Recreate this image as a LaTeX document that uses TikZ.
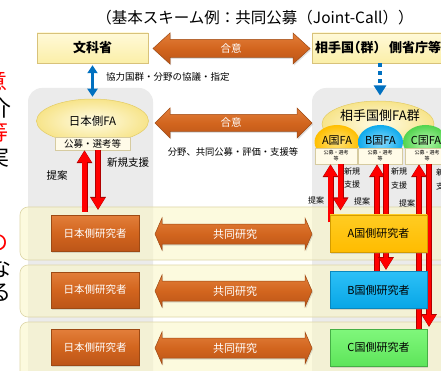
\documentclass[tikz,border=0pt]{standalone}
\usepackage{fontspec}
\setmainfont{Noto Sans CJK JP}
\newfontfamily\haltfont[RawFeature=+halt]{Noto Sans CJK JP}
\usetikzlibrary{arrows.meta,shadows,shapes.geometric,calc}
\definecolor{boxyel}{HTML}{FBEFA8}
\definecolor{boxyelL}{HTML}{FFF9D8}
\definecolor{boxyelD}{HTML}{D8C27A}
\definecolor{org}{HTML}{D2651E}
\definecolor{orgL}{HTML}{E27E3A}
\definecolor{orgD}{HTML}{BC5518}
\definecolor{orgB}{HTML}{9E4A14}
\definecolor{panel}{HTML}{EBEBEB}
\definecolor{band}{HTML}{FAF6C4}
\definecolor{bandD}{HTML}{DDD6A8}
\definecolor{ellin}{HTML}{FFFCE6}
\definecolor{ellout}{HTML}{F7E48A}
\definecolor{ellD}{HTML}{E3CC66}
\definecolor{fab}{HTML}{FFFBE8}
\definecolor{fabD}{HTML}{D6CBA0}
\definecolor{Aout}{HTML}{FFBF00}
\definecolor{Ain}{HTML}{FFE27A}
\definecolor{Bout}{HTML}{0EAAEC}
\definecolor{Bin}{HTML}{8ADCFF}
\definecolor{Cout}{HTML}{52D44E}
\definecolor{Cin}{HTML}{B4F6AC}
\definecolor{AboxT}{HTML}{FFCC22}
\definecolor{AboxB}{HTML}{FFBC00}
\definecolor{AboxD}{HTML}{D49C00}
\definecolor{BboxT}{HTML}{2CC0F7}
\definecolor{BboxB}{HTML}{08A6E6}
\definecolor{BboxD}{HTML}{0A88BE}
\definecolor{CboxT}{HTML}{80F77C}
\definecolor{CboxB}{HTML}{5EE55A}
\definecolor{CboxD}{HTML}{45B045}
\definecolor{mblue}{HTML}{0070C0}
\definecolor{rdark}{HTML}{B00000}
\newcommand\dblarr[6]{%
 \path[orgarrow] (#1,#3) -- ({#1+#6},{#3-#5}) -- ({#1+#6},{#3-#4}) -- ({#2-#6},{#3-#4}) -- ({#2-#6},{#3-#5}) -- (#2,#3) -- ({#2-#6},{#3+#5}) -- ({#2-#6},{#3+#4}) -- ({#1+#6},{#3+#4}) -- ({#1+#6},{#3+#5}) -- cycle;}
\newcommand\redarr[2]{%
 \draw[redunder] #1 -- #2; \draw[redover] #1 -- #2;}
\tikzset{
 fs/.style={font=\fontsize{#1}{#1}\selectfont},
 shad/.style={drop shadow={opacity=0.25,shadow xshift=1pt,shadow yshift=-1.5pt}},
 topbox/.style={draw=boxyelD, line width=0.5pt, top color=boxyelL, bottom color=boxyel, inner sep=0pt, shad},
 orgarrow/.style={draw=orgB, line width=0.5pt, top color=orgL, bottom color=orgD, middle color=org, shad},
 wlbl/.style={text=white, inner sep=0pt},
 lbl/.style={inner sep=0pt},
 panelbox/.style={fill=panel, rounded corners=14pt},
 bandbox/.style={fill=band, fill opacity=0.55, draw=bandD, line width=0.6pt, rounded corners=8pt},
 fabox/.style={draw=fabD, line width=0.4pt, fill=fab, inner sep=0pt},
 lres/.style={draw=orgB, line width=0.5pt, top color=orgL, bottom color=orgD, middle color=org, text=white, inner sep=0pt, minimum width=88pt, minimum height=36pt, fs=10.5, shad},
 rres/.style={line width=0.5pt, inner sep=0pt, minimum width=97pt, minimum height=37pt, fs=11, shad},
 redunder/.style={draw=rdark, line width=6pt, -{Triangle[width=15pt,length=13pt]}},
 redover/.style={draw=red, line width=4.4pt, shorten >=0.8pt, -{Triangle[width=12.6pt,length=11pt]}},
}
\begin{document}
\begin{tikzpicture}[x=1pt,y=-1pt]
\useasboundingbox[fill=white] (0,0) rectangle (441,371);
% cut-off margin text
\begin{scope}[fs=22]
\node[anchor=east, inner sep=0pt, text=red] (m1) at (8,81) {意};
\node[anchor=east, inner sep=0pt] (m2) at (12,108) {介};
\node[anchor=east, inner sep=0pt, text=red] (m3) at (9,132) {等};
\node[anchor=east, inner sep=0pt] (m4) at (10,157) {実};
\node[anchor=east, inner sep=0pt, text=red] (m5) at (9,243) {の};
\node[anchor=east, inner sep=0pt] (m6) at (12,268) {な};
\node[anchor=east, inner sep=0pt] (m7) at (12,293) {る};
\end{scope}
% title
\node[lbl, fs=15.5] (title) at (255,18) {（基本スキーム例：共同公募（Joint-Call））};
% panels and bands
\path[panelbox] (28,88) rectangle (153,390);
\path[panelbox] (312,88) rectangle (470,390);
\path[bandbox] (20,207) rectangle (470,260);
\path[bandbox] (20,265) rectangle (470,317);
\path[bandbox] (20,322) rectangle (470,390);
% top row
\node[topbox, minimum width=111pt, minimum height=30pt, fs=13] (mext) at (92.5,48) {\bfseries 文科省};
\node[topbox, minimum width=150pt, minimum height=30pt, anchor=west] (partner) at (312,48) {};
\node[lbl, anchor=west, fs=13] (partnertxt) at (315,48) {\haltfont\bfseries 相手国（群）\hspace{9pt}側省庁等};
\dblarr{153}{310}{48.5}{9}{15.5}{17}
\node[wlbl, fs=10.5] (agree1) at (231,48.5) {合意};
% vertical blue connectors
\node[lbl, anchor=west, fs=9.5] (kyogi) at (106,77) {協力国群・分野の協議・指定};
% Japan FA
\node[ellipse, draw=ellD, line width=0.5pt, inner color=ellin, outer color=ellout, minimum width=112pt, minimum height=44pt, inner sep=0pt] (jfa) at (92.5,121) {};
\node[lbl, fs=11.5] (jfatxt) at (92.5,121) {日本側FA};
\node[fabox, minimum width=75pt, minimum height=13pt, fs=9.5] (jsel) at (92.5,143.5) {公募・選考等};
\draw[mblue, line width=3.5pt, {Triangle[width=10pt,length=8pt]}-{Triangle[width=10pt,length=8pt]}] ($(mext.south)+(0,2)$) -- ($(jfa.north)+(0,-2)$);
% partner FA group
\node[ellipse, draw=ellD, line width=0.5pt, inner color=ellin, outer color=ellout, minimum width=112pt, minimum height=46pt, inner sep=0pt] (pfa) at (378,124) {};
\node[lbl, fs=13] (pfatxt) at (380,116) {相手国側FA群};
\draw[mblue, line width=4pt, dash pattern=on 4pt off 4pt, -{Triangle[width=12pt,length=10pt]}] (partner.south -| 380,0) -- (380,95.5);
\node[ellipse, inner color=Ain, outer color=Aout, minimum width=45pt, minimum height=34pt, inner sep=0pt] (faA) at (337,142) {};
\node[ellipse, inner color=Bin, outer color=Bout, minimum width=45pt, minimum height=34pt, inner sep=0pt] (faB) at (380.5,142) {};
\node[ellipse, inner color=Cin, outer color=Cout, minimum width=45pt, minimum height=34pt, inner sep=0pt] (faC) at (425.5,142) {};
\node[lbl, fs=11] at (337,141) {A国FA};
\node[lbl, fs=11] at (380.5,141) {B国FA};
\node[lbl, fs=11] at (426,141) {C国FA};
\node[fabox, minimum width=42pt, minimum height=16pt, align=center, font=\fontsize{5}{6}\selectfont] (selA) at (336,156) {公募・選考\\等};
\node[fabox, minimum width=44pt, minimum height=16pt, align=center, font=\fontsize{5}{6}\selectfont] (selB) at (380,156) {公募・選考\\等};
\node[fabox, minimum width=44pt, minimum height=16pt, align=center, font=\fontsize{5}{6}\selectfont] (selC) at (427,156) {公募・選考\\等};
% second agreement
\dblarr{155}{312}{123}{8.5}{15}{15}
\node[wlbl, fs=10.5] (agree2) at (231,123) {合意};
\node[lbl, fs=9.3] (scope) at (233,152) {分野、共同公募・評価・支援等};
% coordinates for red arrows
\coordinate (lu) at (84.5,212);
\coordinate (ld) at (98,210);
\coordinate (au) at (330.5,222);
\coordinate (ad) at (340.5,210.5);
\coordinate (bu) at (377,280);
\coordinate (bd) at (386,270);
\coordinate (cu) at (419,335);
\coordinate (cd) at (429,327);
\redarr{(lu)}{(lu |- jsel.south)}
\redarr{(ld |- jsel.south)}{(ld)}
\redarr{(au)}{(au |- selA.south)}
\redarr{(ad |- selA.south)}{(ad)}
\redarr{(bu)}{(bu |- selB.south)}
\redarr{(bd |- selB.south)}{(bd)}
\redarr{(cu)}{(cu |- selC.south)}
\redarr{(cd |- selC.south)}{(cd)}
% labels for red arrows
\node[lbl, fs=10.5] (lprop) at (57,176) {提案};
\node[lbl, fs=10.5] (lsup) at (128,163) {新規支援};
\begin{scope}[fs=8]
\node[lbl] (ap) at (316,200) {提案};
\node[lbl] (as1) at (352,171) {新規};
\node[lbl] (as2) at (352,184.5) {支援};
\node[lbl] (bp) at (362,201.5) {提案};
\node[lbl] (bs1) at (399,171.5) {新規};
\node[lbl] (bs2) at (399,185) {支援};
\node[lbl] (cp) at (407,203) {提案};
\node[lbl] (cs1) at (444,172) {新規};
\node[lbl] (cs2) at (444,186) {支援};
\end{scope}
% researchers
\node[lres] (jr1) at (95,233.5) {日本側研究者};
\node[lres] (jr2) at (95,290) {日本側研究者};
\node[lres] (jr3) at (95,347.5) {日本側研究者};
\node[rres, draw=AboxD, top color=AboxT, bottom color=AboxB] (ar) at (378.5,233.5) {A国側研究者};
\node[rres, draw=BboxD, top color=BboxT, bottom color=BboxB] (br) at (378.5,290) {B国側研究者};
\node[rres, draw=CboxD, top color=CboxT, bottom color=CboxB] (cr) at (378.5,347.5) {C国側研究者};
\dblarr{155}{312}{234}{10}{16}{7}
\node[wlbl, fs=11] (joint1) at (235,234) {共同研究};
\dblarr{155}{312}{291}{10}{16}{7}
\node[wlbl, fs=11] (joint2) at (235,291) {共同研究};
\dblarr{155}{312}{348}{10}{16}{7}
\node[wlbl, fs=11] (joint3) at (235,348) {共同研究};
\end{tikzpicture}
\end{document}
